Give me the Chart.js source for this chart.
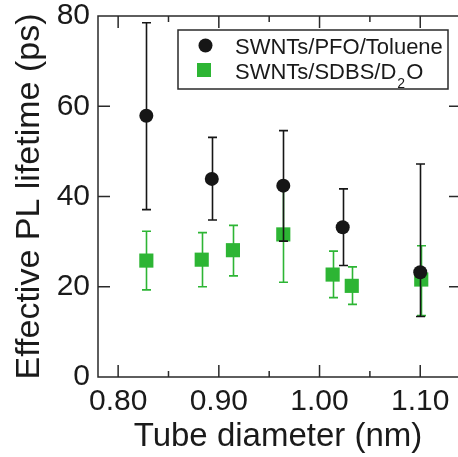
<!DOCTYPE html>
<html><head><meta charset="utf-8">
<script src="https://cdn.jsdelivr.net/npm/chart.js@4.4.1/dist/chart.umd.min.js"></script>
<style>html,body{margin:0;padding:0;background:#fff}#wrap{width:458px;height:457px}</style>
</head><body><div id="wrap"><canvas id="c" width="458" height="457"></canvas></div>
<script>
// ---- data ----
const pfoDiameter   = [0.828, 0.893, 0.964, 1.023, 1.100];
const pfoLifetime   = [57.9, 43.9, 42.4, 33.2, 23.2];
const pfoErrHigh    = [78.5, 53.1, 54.6, 41.7, 47.2];
const pfoErrLow     = [37.1, 34.8, 30.1, 24.7, 13.4];

const sdbsDiameter  = [0.828, 0.883, 0.914, 0.964, 1.013, 1.032, 1.101];
const sdbsLifetime  = [25.8, 26.0, 28.1, 31.6, 22.7, 20.2, 21.6];
const sdbsErrHigh   = [32.3, 32.0, 33.6, 42.0, 27.9, 24.4, 29.1];
const sdbsErrLow    = [19.3, 20.0, 22.4, 21.0, 17.6, 16.1, 13.6];

const xMajorTicks = [0.80, 0.90, 1.00, 1.10];
const xMinorTicks = [0.85, 0.95, 1.05];
const yTicks      = [0, 20, 40, 60, 80];
const seriesNames = ['SWNTs/PFO/Toluene', 'SWNTs/SDBS/D\u2082O'];
const xTitle = 'Tube diameter (nm)';
const yTitle = 'Effective PL lifetime (ps)';

const BLACK = '#161616';
const GREEN = '#2db534';
const AXIS  = '#2a2a2a';
const FONT  = "'Liberation Sans', Arial, sans-serif";

function pts(xs, ys, lo, hi) { return xs.map((x, i) => ({x: x, y: ys[i], lo: lo[i], hi: hi[i]})); }

const errorBars = {
  id: 'errorBars',
  beforeDatasetDraw(chart, args) {
    const ds = chart.data.datasets[args.index];
    const xs = chart.scales.x, ys = chart.scales.y, ctx = chart.ctx;
    ctx.save();
    ctx.strokeStyle = ds.errColor; ctx.lineWidth = 1.6;
    const cap = 4.5;
    ds.data.forEach(p => {
      const px = Math.round(xs.getPixelForValue(p.x)) + 0.5;
      const yh = ys.getPixelForValue(p.hi), yl = ys.getPixelForValue(p.lo);
      ctx.beginPath();
      ctx.moveTo(px, yh); ctx.lineTo(px, yl);
      ctx.moveTo(px - cap, yh); ctx.lineTo(px + cap, yh);
      ctx.moveTo(px - cap, yl); ctx.lineTo(px + cap, yl);
      ctx.stroke();
    });
    ctx.restore();
  }
};

const frame = {
  id: 'frame',
  afterDraw(chart) {
    const a = chart.chartArea, ctx = chart.ctx, xs = chart.scales.x, ys = chart.scales.y;
    ctx.save();
    ctx.strokeStyle = AXIS; ctx.lineWidth = 1.5;
    ctx.beginPath();
    // left, top, bottom edges (right edge lies at the cropped border of the picture)
    ctx.moveTo(a.right, a.top); ctx.lineTo(a.left, a.top); ctx.lineTo(a.left, a.bottom); ctx.lineTo(a.right, a.bottom);
    xMajorTicks.forEach(v => { const p = xs.getPixelForValue(v);
      ctx.moveTo(p, a.bottom); ctx.lineTo(p, a.bottom - 12);
      ctx.moveTo(p, a.top); ctx.lineTo(p, a.top + 12); });
    xMinorTicks.forEach(v => { const p = xs.getPixelForValue(v);
      ctx.moveTo(p, a.bottom); ctx.lineTo(p, a.bottom - 6);
      ctx.moveTo(p, a.top); ctx.lineTo(p, a.top + 6); });
    yTicks.forEach(v => { const p = ys.getPixelForValue(v);
      ctx.moveTo(a.left, p); ctx.lineTo(a.left + 12, p);
      ctx.moveTo(a.right, p); ctx.lineTo(a.right - 9, p); });
    ctx.stroke();

    // legend
    const bx = 178, by = 30, bw = 270, bh = 59;
    ctx.fillStyle = '#fff';
    ctx.fillRect(bx, by, bw, bh);
    ctx.strokeStyle = AXIS; ctx.lineWidth = 1.5;
    ctx.strokeRect(bx, by, bw, bh);
    ctx.fillStyle = BLACK;
    ctx.beginPath(); ctx.arc(205.5, 45.5, 7, 0, Math.PI * 2); ctx.fill();
    ctx.fillStyle = GREEN;
    ctx.fillRect(197, 63, 14, 14);
    ctx.fillStyle = '#1a1a1a';
    ctx.textBaseline = 'alphabetic'; ctx.textAlign = 'left';
    ctx.font = '22px ' + FONT;
    ctx.fillText(seriesNames[0], 235, 53.5);
    const parts = seriesNames[1].split('\u2082');
    let tx = 235;
    ctx.fillText(parts[0], tx, 78.5); tx += ctx.measureText(parts[0]).width + 1;
    ctx.font = '14px ' + FONT;
    ctx.fillText('2', tx, 88); tx += ctx.measureText('2').width + 1;
    ctx.font = '22px ' + FONT;
    ctx.fillText(parts[1], tx, 78.5);
    ctx.restore();
  }
};

function zeroPad(s) { s.paddingLeft = 0; s.paddingRight = 0; s.paddingTop = 0; s.paddingBottom = 0; }

new Chart(document.getElementById('c'), {
  type: 'scatter',
  data: {
    datasets: [
      { label: seriesNames[0], data: pts(pfoDiameter, pfoLifetime, pfoErrLow, pfoErrHigh),
        pointStyle: 'circle', pointRadius: 7, backgroundColor: BLACK, borderColor: BLACK, borderWidth: 0,
        errColor: BLACK, clip: false },
      { label: seriesNames[1], data: pts(sdbsDiameter, sdbsLifetime, sdbsErrLow, sdbsErrHigh),
        pointStyle: 'rect', pointRadius: 10, backgroundColor: GREEN, borderColor: GREEN, borderWidth: 0,
        errColor: GREEN, clip: false }
    ]
  },
  options: {
    responsive: false, animation: false, devicePixelRatio: 1,
    layout: { autoPadding: false, padding: { top: 16, right: 0, left: 0, bottom: 0 } },
    plugins: { legend: { display: false }, tooltip: { enabled: false } },
    scales: {
      x: {
        type: 'linear', min: 0.78, max: 1.1375,
        afterBuildTicks: s => { s.ticks = xMajorTicks.map(v => ({ value: v })); },
        afterFit: s => { s.height = 80; zeroPad(s); },
        ticks: { callback: v => Number(v).toFixed(2), font: { family: FONT, size: 30 }, color: '#1a1a1a',
                 padding: 7, maxRotation: 0, autoSkip: false },
        grid: { display: false, drawTicks: false }, border: { display: false },
        title: { display: true, text: xTitle, font: { family: FONT, size: 33 }, color: '#1a1a1a',
                 padding: { top: 0, bottom: 0 } }
      },
      y: {
        type: 'linear', min: 0, max: 80,
        afterBuildTicks: s => { s.ticks = yTicks.map(v => ({ value: v })); },
        afterFit: s => { s.width = 98; zeroPad(s); },
        ticks: { font: { family: FONT, size: 30 }, color: '#1a1a1a', padding: 8, autoSkip: false },
        grid: { display: false, drawTicks: false }, border: { display: false },
        title: { display: true, text: yTitle, font: { family: FONT, size: 34 }, color: '#1a1a1a',
                 padding: { top: 9, bottom: 0 } }
      }
    }
  },
  plugins: [errorBars, frame]
});
</script></body></html>
